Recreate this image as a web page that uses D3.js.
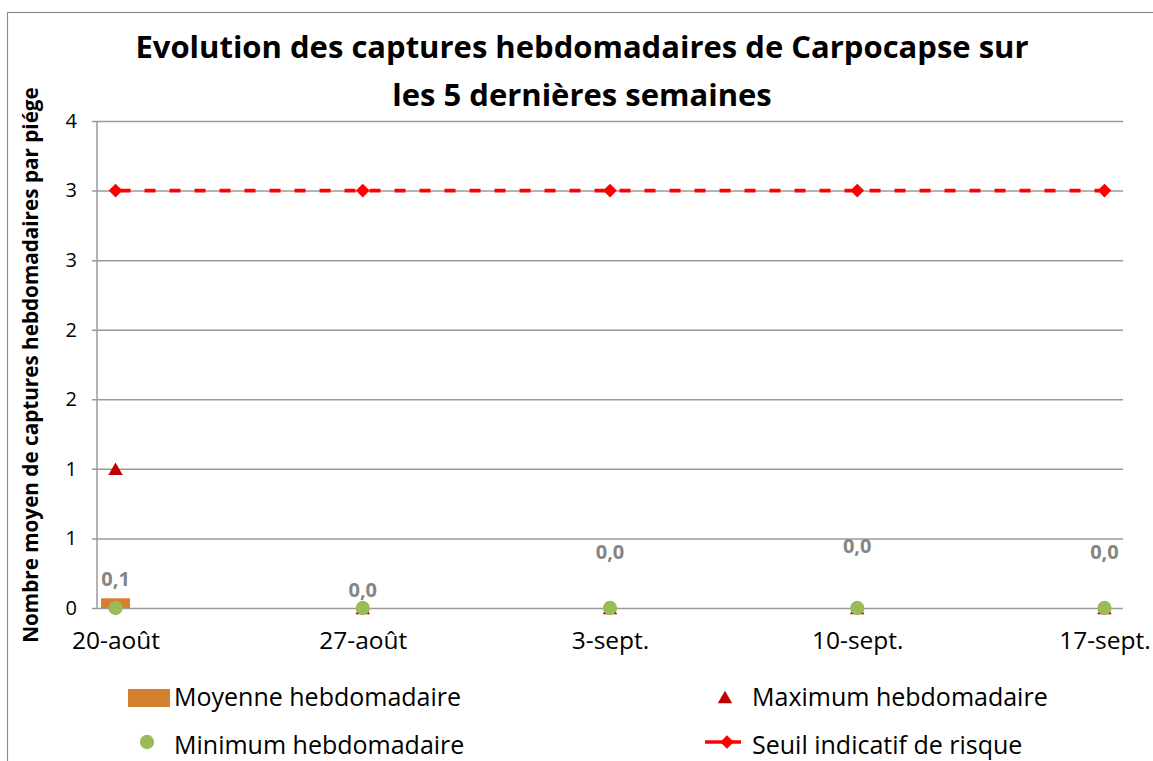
<!DOCTYPE html>
<html>
<head>
<meta charset="utf-8">
<script src="https://cdn.jsdelivr.net/npm/d3@7"></script>
<style>
  body { margin: 0; background: #fff; }
  svg { display: block; font-family: "Open Sans", Lato, sans-serif; }
</style>
</head>
<body>
<svg id="chart"></svg>
<script>
// data
var weeks = ["20-août", "27-août", "3-sept.", "10-sept.", "17-sept."];
var moyenne = [0.07, 0.0, 0.0, 0.0, 0.0];
var maximum = [1, 0, 0, 0, 0];
var minimum = [0, 0, 0, 0, 0];
var seuil = [3, 3, 3, 3, 3];
var yTicks = [0, 0.5, 1, 1.5, 2, 2.5, 3, 3.5];
// how far above the bar Excel placed each value label (px)
var labelLift = [12, 11, 49, 55, 49];

var W = 1153, H = 761;
var pLeft = 97, pRight = 1123, pTop = 121, pBottom = 608;
var font = "'Open Sans', Lato, sans-serif";

var svg = d3.select("#chart").attr("width", W).attr("height", H);

svg.append("rect")
    .attr("x", 7.5).attr("y", 12.5)
    .attr("width", W + 10).attr("height", H + 10)
    .attr("fill", "none").attr("stroke", "#8c8c8c").attr("stroke-width", 1.2);

var x = d3.scalePoint().domain(weeks).range([pLeft, pRight]).padding(0.075);
var y = d3.scaleLinear().domain([0, 3.5]).range([pBottom, pTop]);

// title
var title = svg.append("text")
    .attr("text-anchor", "middle")
    .style("font-size", "31px").style("font-weight", "bold");
title.append("tspan").attr("x", 582).attr("y", 58)
    .text("Evolution des captures hebdomadaires de Carpocapse sur");
title.append("tspan").attr("x", 582).attr("y", 106)
    .text("les 5 dernières semaines");

// y axis with gridlines
var yAxis = svg.append("g")
    .attr("transform", "translate(" + pLeft + ",0)")
    .call(d3.axisLeft(y).tickValues(yTicks)
        .tickSize(-(pRight - pLeft)).tickPadding(20)
        .tickFormat(function(d) { return Math.round(d); }));
yAxis.select(".domain").remove();
yAxis.selectAll(".tick line")
    .attr("x1", -5).attr("stroke", "#9a9a9a").attr("stroke-width", 1.5);
yAxis.selectAll(".tick text")
    .style("font-size", "20px").style("font-family", font)
    .attr("fill", "#000");

svg.append("line")
    .attr("x1", pLeft).attr("x2", pLeft).attr("y1", pTop).attr("y2", pBottom)
    .attr("stroke", "#9a9a9a").attr("stroke-width", 1.5);

// x axis labels
var xAxis = svg.append("g")
    .attr("transform", "translate(0," + pBottom + ")")
    .call(d3.axisBottom(x).tickSize(0).tickPadding(24));
xAxis.select(".domain").remove();
xAxis.selectAll(".tick text")
    .style("font-size", "24.5px").style("font-family", font)
    .attr("fill", "#000");

// y title
svg.append("text")
    .attr("transform", "translate(38,365) rotate(-90)")
    .attr("text-anchor", "middle")
    .style("font-size", "20.7px").style("font-weight", "bold")
    .text("Nombre moyen de captures hebdomadaires par piége");

// bars (moyenne)
var barW = 29;
svg.selectAll(".bar")
    .data(moyenne)
    .enter().append("rect")
    .attr("class", "bar")
    .attr("x", function(d, i) { return x(weeks[i]) - barW / 2; })
    .attr("width", barW)
    .attr("y", function(d) { return y(d); })
    .attr("height", function(d) { return pBottom - y(d); })
    .attr("fill", "#d4802e");

svg.selectAll(".blabel")
    .data(moyenne)
    .enter().append("text")
    .attr("class", "blabel")
    .attr("x", function(d, i) { return x(weeks[i]); })
    .attr("y", function(d, i) { return y(d) - labelLift[i]; })
    .attr("text-anchor", "middle")
    .style("font-size", "20px").style("font-weight", "bold")
    .attr("fill", "#858585")
    .text(function(d) { return d3.format(".1f")(d).replace(".", ","); });

// seuil line
var line = d3.line()
    .x(function(d, i) { return x(weeks[i]); })
    .y(function(d) { return y(d); });
svg.append("path")
    .datum(seuil)
    .attr("d", line)
    .attr("fill", "none").attr("stroke", "#ff0000")
    .attr("stroke-width", 3.7).attr("stroke-dasharray", "11,14")
    .attr("stroke-dashoffset", -4);

var diamond = d3.symbol().type(d3.symbolDiamond2).size(120);
var triangle = d3.symbol().type(d3.symbolTriangle).size(90);
var circle = d3.symbol().type(d3.symbolCircle).size(160);

// maximum triangles
svg.selectAll(".tri")
    .data(maximum)
    .enter().append("path")
    .attr("class", "tri")
    .attr("d", triangle)
    .attr("transform", function(d, i) { return "translate(" + x(weeks[i]) + "," + (y(d) + 2) + ")"; })
    .attr("fill", "#c00000");

// minimum circles
svg.selectAll(".dot")
    .data(minimum)
    .enter().append("path")
    .attr("class", "dot")
    .attr("d", circle)
    .attr("transform", function(d, i) { return "translate(" + x(weeks[i]) + "," + y(d) + ")"; })
    .attr("fill", "#9bbb59");

// seuil diamonds
svg.selectAll(".dia")
    .data(seuil)
    .enter().append("path")
    .attr("class", "dia")
    .attr("d", diamond)
    .attr("transform", function(d, i) { return "translate(" + x(weeks[i]) + "," + y(d) + ")"; })
    .attr("fill", "#ff0000");

// legend
var lg = svg.append("g").style("font-size", "25px");
lg.append("rect").attr("x", 128).attr("y", 689).attr("width", 42).attr("height", 18).attr("fill", "#d4802e");
lg.append("text").attr("x", 174).attr("y", 706).text("Moyenne hebdomadaire");
lg.append("path").attr("d", circle).attr("transform", "translate(147,742)").attr("fill", "#9bbb59");
lg.append("text").attr("x", 174).attr("y", 754).text("Minimum hebdomadaire");
lg.append("path").attr("d", triangle).attr("transform", "translate(725,699)").attr("fill", "#c00000");
lg.append("text").attr("x", 752).attr("y", 706).text("Maximum hebdomadaire");
lg.append("line").attr("x1", 705).attr("x2", 741).attr("y1", 742).attr("y2", 742)
    .attr("stroke", "#ff0000").attr("stroke-width", 3.7);
lg.append("path").attr("d", diamond).attr("transform", "translate(727,742)").attr("fill", "#ff0000");
lg.append("text").attr("x", 752).attr("y", 754).text("Seuil indicatif de risque");
</script>
</body>
</html>
